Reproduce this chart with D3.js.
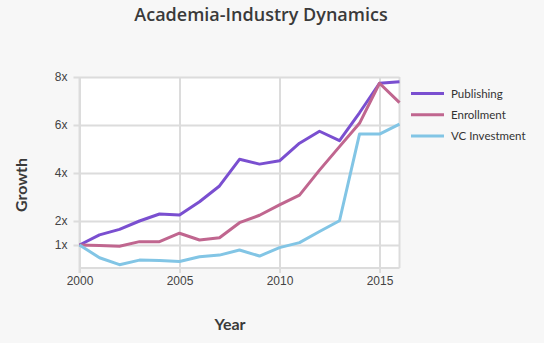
<!DOCTYPE html>
<html><head><meta charset="utf-8">
<script src="https://cdn.jsdelivr.net/npm/d3@7"></script>
<style>
html,body{margin:0;padding:0;background:#f7f7f7;}
svg{display:block;font-family:Lato,"Open Sans",sans-serif;}
</style></head>
<body><svg id="c" width="544" height="343"></svg>
<script>
const years = d3.range(2000, 2017);
const publishing = [1.0,1.42,1.65,2.0,2.29,2.25,2.8,3.46,4.57,4.37,4.51,5.24,5.74,5.35,6.51,7.74,7.8];
const enrollment = [1.0,0.98,0.95,1.14,1.14,1.49,1.21,1.3,1.93,2.24,2.67,3.08,4.12,5.1,6.07,7.74,6.93];
const vcInvestment = [1.0,0.47,0.18,0.37,0.35,0.31,0.51,0.58,0.79,0.54,0.89,1.1,1.56,2.01,5.62,5.62,6.04];
const seriesNames = ["Publishing","Enrollment","VC Investment"];
const seriesColors = ["#7a4fd0","#c0668f","#82c5e5"];
const yTicks = [1,2,4,6,8];
const xTicks = [2000,2005,2010,2015];

const series = [publishing, enrollment, vcInvestment];
const svg = d3.select("#c");
const x = d3.scaleLinear().domain([2000,2016]).range([79.5,399.5]);
const y = d3.scaleLinear().domain([0,8]).range([269,77]);

svg.append("rect").attr("x",79.5).attr("y",77).attr("width",320).attr("height",191).attr("fill","#fff");

const gx = svg.append("g").attr("transform","translate(0,268)")
  .call(d3.axisBottom(x).tickValues(xTicks).tickFormat(d3.format("d")).tickSize(-191).tickPadding(0));
gx.select(".domain").remove();
gx.selectAll(".tick line").attr("stroke","#dcdcdc").attr("stroke-width",2).attr("y1",5);
gx.selectAll(".tick text").attr("fill","#444").attr("font-size",12).attr("dy","1.2em").attr("y",3);

const gy = svg.append("g").attr("transform","translate(79.5,0)")
  .call(d3.axisLeft(y).tickValues(yTicks).tickFormat(d=>d+"x").tickSize(-320).tickPadding(0));
gy.select(".domain").remove();
gy.selectAll(".tick line").attr("stroke","#dcdcdc").attr("stroke-width",2).attr("x1",-6);
gy.selectAll(".tick text").attr("fill","#444").attr("font-size",12).attr("x",-12);

svg.append("line").attr("x1",79.5).attr("x2",79.5).attr("y1",77).attr("y2",273).attr("stroke","#dcdcdc").attr("stroke-width",2);
svg.append("line").attr("x1",399.5).attr("x2",399.5).attr("y1",77).attr("y2",268).attr("stroke","#dcdcdc").attr("stroke-width",2);
svg.append("line").attr("x1",79.5).attr("x2",399.5).attr("y1",268).attr("y2",268).attr("stroke","#dcdcdc").attr("stroke-width",2);

const line = d3.line().x((d,i)=>x(years[i])).y(d=>y(d));
series.forEach((s,i)=>{
  svg.append("path").datum(s).attr("d",line).attr("fill","none")
    .attr("stroke",seriesColors[i]).attr("stroke-width",3).attr("stroke-linejoin","round");
});

const leg = svg.append("g");
seriesNames.forEach((n,i)=>{
  const yy = 93.5 + i*21.2;
  leg.append("line").attr("x1",411).attr("x2",444).attr("y1",yy).attr("y2",yy)
    .attr("stroke",seriesColors[i]).attr("stroke-width",3);
  leg.append("text").attr("x",451).attr("y",yy).attr("dy","0.35em")
    .attr("font-size",11.5).attr("fill","#333").text(n);
});

svg.append("text").attr("x",261).attr("y",21).attr("text-anchor","middle")
  .attr("font-family","'Open Sans',sans-serif")
  .attr("font-size",18).attr("font-weight",600).attr("fill","#3a3a3a").text("Academia-Industry Dynamics");
svg.append("text").attr("x",230).attr("y",330).attr("text-anchor","middle")
  .attr("font-size",16).attr("font-weight",700).attr("fill","#3a3a3a").text("Year");
svg.append("text").attr("transform","translate(27,185) rotate(-90)").attr("text-anchor","middle")
  .attr("font-size",16).attr("font-weight",700).attr("fill","#3a3a3a").text("Growth");
</script></body></html>
